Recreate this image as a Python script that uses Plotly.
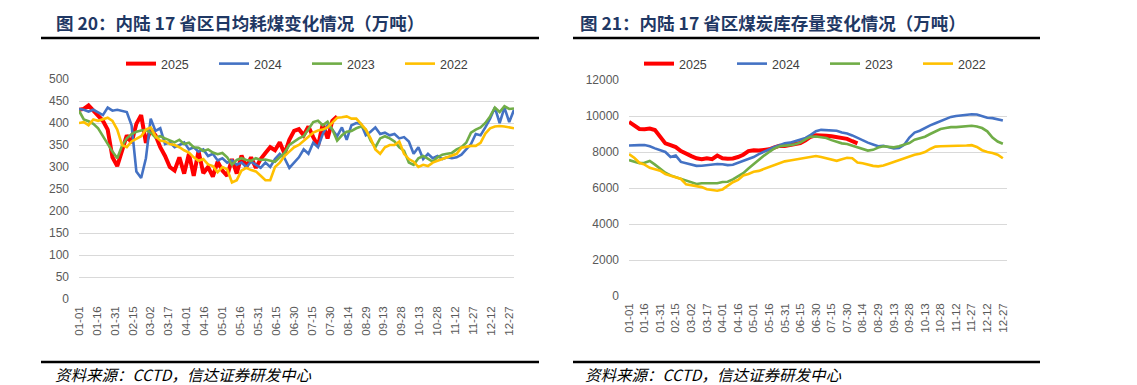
import pandas as pd
import plotly.graph_objects as go

# ---------------- data ----------------
SERIES_NAMES = ["2025", "2024", "2023", "2022"]
SERIES_COLORS = ["#FF0000", "#4472C4", "#70AD47", "#FFC000"]

# Left chart: daily coal consumption, sampled every 4 days from 01-01
left_2025 = [430, 432, 440, 428, 418, 405, 385, 322, 302, 338, 372, 355, 398, 418, 355, 385,
             372, 345, 325, 300, 292, 322, 285, 330, 280, 336, 286, 300, 278, 312, 292, 280,
             318, 285, 326, 300, 322, 298, 318, 332, 345, 338, 356, 330, 362, 382, 386, 372,
             392, 368, 348, 398, 365, 405, 415]
left_2024 = [432, 430, 426, 430, 424, 418, 435, 428, 430, 428, 425, 395, 290, 275, 320, 410,
             382, 388, 352, 356, 345, 350, 356, 340, 345, 335, 340, 325, 330, 315, 320, 310,
             315, 305, 310, 300, 312, 305, 298, 310, 300, 318, 330, 320, 298, 310, 322, 340,
             330, 355, 345, 375, 395, 385, 370, 390, 362, 395, 400, 398, 372, 380, 390, 375,
             378, 372, 375, 365, 368, 358, 330, 345, 318, 330, 320, 325, 318, 322, 320, 322,
             328, 340, 352, 375, 372, 390, 410, 435, 400, 435, 402, 430]
left_2023 = [428, 408, 404, 398, 388, 370, 355, 335, 320, 348, 365, 375, 380, 383, 384, 378,
             367, 370, 365, 360, 356, 362, 352, 355, 345, 344, 336, 340, 333, 329, 332, 322,
             305, 316, 320, 316, 314, 320, 316, 317, 314, 312, 322, 332, 350, 358, 365, 370,
             385, 402, 405, 395, 403, 385, 360, 372, 380, 382, 388, 392, 385, 360, 345, 365,
             370, 365, 358, 345, 337, 310, 305, 320, 325, 318, 312, 322, 328, 330, 332, 340,
             345, 355, 378, 385, 390, 400, 415, 435, 425, 438, 432, 433]
left_2022 = [400, 402, 395, 408, 405, 408, 412, 405, 385, 350, 345, 358, 365, 370, 385, 390,
             370, 360, 358, 352, 350, 345, 338, 333, 322, 314, 318, 306, 302, 288, 300, 295,
             265, 270, 292, 298, 293, 290, 280, 270, 270, 300, 310, 325, 335, 345, 350, 360,
             370, 378, 383, 385, 390, 400, 412, 413, 415, 410, 410, 398, 385, 365, 340, 330,
             345, 350, 350, 358, 330, 318, 312, 300, 305, 302, 310, 314, 318, 322, 325, 330,
             344, 346, 348, 348, 355, 376, 388, 392, 393, 392, 390, 388]

# Right chart: coal inventory, sampled every 5 days from 01-01
right_2025 = [9670, 9450, 9280, 9270, 9300, 9220, 8850, 8480, 8380, 8270, 8050, 7880, 7770,
              7650, 7600, 7650, 7600, 7800, 7650, 7620, 7640, 7720, 7850, 8050, 8100, 8080,
              8100, 8150, 8250, 8350, 8330, 8400, 8450, 8500, 8650, 8850, 8930, 8940, 8900,
              8880, 8820, 8800, 8730, 8600, 8480]
right_2024 = [8360, 8350, 8380, 8390, 8320, 8200, 8120, 8000, 7720, 7800, 7450, 7380, 7300,
              7230, 7240, 7280, 7320, 7330, 7320, 7270, 7290, 7400, 7480, 7620, 7720, 7880,
              8020, 8150, 8280, 8380, 8480, 8520, 8600, 8680, 8780, 8950, 9150, 9230, 9220,
              9200, 9180, 9080, 9030, 8920, 8780, 8650, 8520, 8420, 8320, 8350, 8280, 8200,
              8220, 8400, 8800, 9080, 9180, 9350, 9480, 9600, 9720, 9850, 9950, 10000, 10030,
              10060, 10100, 10080, 10000, 9900, 9880, 9800, 9750]
right_2023 = [7550, 7450, 7380, 7400, 7500, 7300, 7050, 6850, 6700, 6600, 6480, 6380, 6300,
              6220, 6260, 6250, 6270, 6260, 6330, 6350, 6480, 6650, 6820, 7080, 7330, 7550,
              7800, 8000, 8200, 8320, 8330, 8380, 8430, 8520, 8700, 8850, 8860, 8830, 8780,
              8660, 8560, 8480, 8440, 8350, 8250, 8150, 8080, 8120, 8250, 8320, 8280, 8260,
              8320, 8400, 8500, 8680, 8750, 8850, 9000, 9150, 9280, 9330, 9380, 9380, 9420,
              9450, 9460, 9420, 9330, 9150, 8800, 8580, 8460]
right_2022 = [7880, 7680, 7400, 7300, 7120, 7050, 6960, 6780, 6700, 6600, 6500, 6200, 6150,
              6110, 6050, 5930, 5900, 5850, 5920, 6100, 6320, 6450, 6700, 6780, 6900, 6950,
              7050, 7150, 7250, 7380, 7480, 7530, 7580, 7640, 7680, 7720, 7780, 7720, 7650,
              7560, 7510, 7600, 7680, 7650, 7420, 7380, 7300, 7230, 7200, 7250, 7350, 7450,
              7550, 7620, 7720, 7850, 7900, 8000, 8170, 8300, 8320, 8320, 8350, 8330, 8350,
              8360, 8380, 8280, 8100, 8000, 7950, 7850, 7650]

left_title = "图 20：内陆 17 省区日均耗煤变化情况（万吨）"
right_title = "图 21：内陆 17 省区煤炭库存量变化情况（万吨）"
source_text = "资料来源：CCTD，信达证券研发中心"

# ---------------- helpers ----------------
W, H = 1137, 385
def px(x):
    return x / W
def py(y):
    return (H - y) / H

START = "2023-01-01"
left_series = [left_2025, left_2024, left_2023, left_2022]
right_series = [right_2025, right_2024, right_2023, right_2022]
widths = [4, 2.6, 2.6, 2.6]

fig = go.Figure()
for name, color, vals, w in zip(SERIES_NAMES, SERIES_COLORS, left_series, widths):
    xs = pd.date_range(START, periods=len(vals), freq="4D")
    fig.add_trace(go.Scatter(x=xs, y=vals, mode="lines", name=name,
                             line=dict(color=color, width=w),
                             xaxis="x", yaxis="y", legend="legend"))
for name, color, vals, w in zip(SERIES_NAMES, SERIES_COLORS, right_series, widths):
    xs = pd.date_range(START, periods=len(vals), freq="5D")
    fig.add_trace(go.Scatter(x=xs, y=vals, mode="lines", name=name,
                             line=dict(color=color, width=w),
                             xaxis="x2", yaxis="y2", legend="legend2"))

tick_font = dict(family="Liberation Sans, Arial, sans-serif", size=12, color="#595959")
xcommon = dict(type="date", range=["2023-01-01", "2023-12-31"], tick0="2023-01-01",
               dtick=15 * 86400000, tickformat="%m-%d", tickangle=-90, showgrid=False,
               showline=False, zeroline=False, ticks="", ticklabelstandoff=4,
               automargin=False,
               tickfont=dict(family="Liberation Sans, Arial, sans-serif", size=11.5,
                             color="#595959"))
ycommon = dict(showgrid=True, gridcolor="#D9D9D9", gridwidth=1, zeroline=False,
               showline=False, ticks="", ticklabelstandoff=9, tickfont=tick_font,
               tickformat="d", automargin=False)

legend_common = dict(orientation="h", xanchor="center", yanchor="middle",
                     bgcolor="rgba(0,0,0,0)", entrywidth=48, entrywidthmode="pixels",
                     font=dict(family="Liberation Sans, Arial, sans-serif", size=12.5,
                               color="#404040"), itemclick=False, itemdoubleclick=False)

fig.update_layout(
    width=W, height=H, margin=dict(l=0, r=0, t=0, b=0, autoexpand=False),
    paper_bgcolor="white", plot_bgcolor="white", showlegend=True, hovermode=False,
    xaxis=dict(domain=[px(79), px(514)], anchor="y", **xcommon),
    yaxis=dict(domain=[py(299), py(79)], anchor="x", range=[0, 500], dtick=50, **ycommon),
    xaxis2=dict(domain=[px(629), px(1007)], anchor="y2", **xcommon),
    yaxis2=dict(domain=[py(296), py(80)], anchor="x2", range=[0, 12000], dtick=2000,
                **ycommon),
    legend=dict(x=px(307), y=py(64), **legend_common),
    legend2=dict(x=px(825), y=py(64), **legend_common),
)

title_font = dict(family="Noto Sans CJK SC, sans-serif", size=17.5, color="#1F3864",
                  weight="bold")
src_font = dict(family="Noto Sans CJK SC, Liberation Sans, sans-serif", size=15.5,
                color="#000000", style="italic")
for x0, txt in [(54, left_title), (578, right_title)]:
    fig.add_annotation(x=px(x0), y=py(22), xref="paper", yref="paper", text=txt,
                       showarrow=False, xanchor="left", yanchor="middle", font=title_font)
for x0 in [53, 583]:
    fig.add_annotation(x=px(x0), y=py(374), xref="paper", yref="paper", text=source_text,
                       showarrow=False, xanchor="left", yanchor="middle", font=src_font)

for x0, x1 in [(41, 539), (573, 1040)]:
    for yy in [38, 362]:
        fig.add_shape(type="line", xref="paper", yref="paper", x0=px(x0), x1=px(x1),
                      y0=py(yy), y1=py(yy), line=dict(color="black", width=2.5))

# remove the browser's default 8px body margin so the figure fills the window exactly
fig.write_html("out.html",
               config={"displayModeBar": False, "staticPlot": True},
               post_script="document.body.style.margin='0';"
                           "document.body.style.overflow='hidden';")
